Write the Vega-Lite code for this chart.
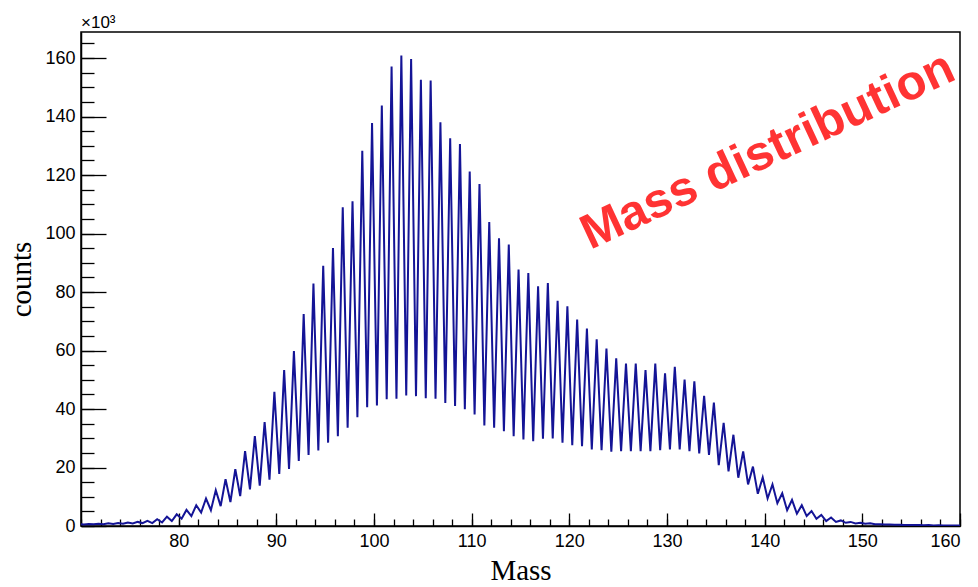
{
  "$schema": "https://vega.github.io/schema/vega-lite/v6.json",
  "width": 879,
  "height": 494,
  "autosize": "none",
  "padding": {"left": 81, "top": 32, "right": 18, "bottom": 61},
  "background": "white",
  "config": {
    "view": {"stroke": "#000", "strokeWidth": 1.5},
    "axis": {"grid": false, "tickColor": "#000", "domainColor": "#000", "labelColor": "#000", "titleColor": "#000", "labelFont": "Liberation Sans", "labelFontSize": 18, "titleFont": "Liberation Serif", "titleFontSize": 29, "titleFontWeight": "normal", "tickWidth": 1.3, "domainWidth": 1.5}
  },
  "datasets": {
    "h": [
      {"m":69.8,"c":0.6},{"m":70.3,"c":0.5},{"m":70.8,"c":0.7},{"m":71.3,"c":0.6},{"m":71.8,"c":0.8},{"m":72.3,"c":0.6},
      {"m":72.8,"c":0.9},{"m":73.3,"c":0.7},{"m":73.8,"c":1.0},{"m":74.3,"c":0.8},{"m":74.8,"c":1.2},{"m":75.3,"c":0.9},
      {"m":75.8,"c":1.4},{"m":76.3,"c":1.0},{"m":76.8,"c":1.8},{"m":77.3,"c":1.0},{"m":77.8,"c":2.3},{"m":78.3,"c":1.2},
      {"m":78.8,"c":3.2},{"m":79.3,"c":1.7},{"m":79.8,"c":4.0},{"m":80.3,"c":2.5},{"m":80.8,"c":5.5},{"m":81.3,"c":3.4},
      {"m":81.8,"c":7.1},{"m":82.3,"c":4.6},{"m":82.8,"c":9.4},{"m":83.3,"c":5.4},{"m":83.8,"c":12.2},{"m":84.3,"c":6.8},
      {"m":84.8,"c":16.0},{"m":85.3,"c":8.2},{"m":85.8,"c":19.4},{"m":86.3,"c":10.2},{"m":86.8,"c":25.6},{"m":87.3,"c":12.5},
      {"m":87.8,"c":30.7},{"m":88.3,"c":13.8},{"m":88.8,"c":35.5},{"m":89.3,"c":15.8},{"m":89.8,"c":45.9},{"m":90.3,"c":17.8},
      {"m":90.8,"c":53.3},{"m":91.3,"c":19.5},{"m":91.8,"c":59.8},{"m":92.3,"c":22.2},{"m":92.8,"c":72.5},{"m":93.3,"c":24.3},
      {"m":93.8,"c":82.9},{"m":94.3,"c":25.8},{"m":94.8,"c":89},{"m":95.3,"c":28.5},{"m":95.8,"c":95},{"m":96.3,"c":30.7},
      {"m":96.8,"c":109},{"m":97.3,"c":33.6},{"m":97.8,"c":111},{"m":98.3,"c":37.2},{"m":98.8,"c":128.3},{"m":99.3,"c":40.6},
      {"m":99.8,"c":137.8},{"m":100.3,"c":41.2},{"m":100.8,"c":143.8},{"m":101.3,"c":43.3},{"m":101.8,"c":157.1},{"m":102.3,"c":43.5},
      {"m":102.8,"c":160.9},{"m":103.3,"c":44.6},{"m":103.8,"c":159.7},{"m":104.3,"c":44.4},{"m":104.8,"c":152.6},{"m":105.3,"c":43.7},
      {"m":105.8,"c":152.3},{"m":106.3,"c":43.5},{"m":106.8,"c":138},{"m":107.3,"c":42.1},{"m":107.8,"c":132.6},{"m":108.3,"c":41},
      {"m":108.8,"c":130.6},{"m":109.3,"c":39.9},{"m":109.8,"c":121.2},{"m":110.3,"c":38.1},{"m":110.8,"c":116.9},{"m":111.3,"c":34.4},
      {"m":111.8,"c":103.9},{"m":112.3,"c":33.6},{"m":112.8,"c":98.4},{"m":113.3,"c":32.4},{"m":113.8,"c":96.2},{"m":114.3,"c":30.7},
      {"m":114.8,"c":87.7},{"m":115.3,"c":29.6},{"m":115.8,"c":86.5},{"m":116.3,"c":29},{"m":116.8,"c":82},{"m":117.3,"c":29.8},
      {"m":117.8,"c":83.1},{"m":118.3,"c":29.9},{"m":118.8,"c":77},{"m":119.3,"c":28.5},{"m":119.8,"c":75.1},{"m":120.3,"c":27.6},
      {"m":120.8,"c":70.6},{"m":121.3,"c":27.3},{"m":121.8,"c":67.5},{"m":122.3,"c":26.2},{"m":122.8,"c":63.8},{"m":123.3,"c":25.9},
      {"m":123.8,"c":60.7},{"m":124.3,"c":25.4},{"m":124.8,"c":57.3},{"m":125.3,"c":25.6},{"m":125.8,"c":55.5},{"m":126.3,"c":25.6},
      {"m":126.8,"c":55.5},{"m":127.3,"c":25.6},{"m":127.8,"c":53.3},{"m":128.3,"c":25.6},{"m":128.8,"c":55.5},{"m":129.3,"c":25.9},
      {"m":129.8,"c":52.2},{"m":130.3,"c":26.2},{"m":130.8,"c":54.4},{"m":131.3,"c":26.2},{"m":131.8,"c":50.1},{"m":132.3,"c":25.6},
      {"m":132.8,"c":49.5},{"m":133.3,"c":24.8},{"m":133.8,"c":44.5},{"m":134.3,"c":24.3},{"m":134.8,"c":42.2},{"m":135.3,"c":20.8},
      {"m":135.8,"c":35.3},{"m":136.3,"c":18.7},{"m":136.8,"c":31.2},{"m":137.3,"c":16.5},{"m":137.8,"c":25.5},{"m":138.3,"c":14.2},
      {"m":138.8,"c":20.3},{"m":139.3,"c":11},{"m":139.8,"c":16.6},{"m":140.3,"c":9.4},{"m":140.8,"c":14.2},{"m":141.3,"c":7.8},
      {"m":141.8,"c":11.2},{"m":142.3,"c":5.4},{"m":142.8,"c":8.9},{"m":143.3,"c":4.2},{"m":143.8,"c":7.1},{"m":144.3,"c":3.4},
      {"m":144.8,"c":5.1},{"m":145.3,"c":2.5},{"m":145.8,"c":3.8},{"m":146.3,"c":1.7},{"m":146.8,"c":2.9},{"m":147.3,"c":1.4},
      {"m":147.8,"c":1.9},{"m":148.3,"c":1.1},{"m":148.8,"c":1.4},{"m":149.3,"c":0.9},{"m":149.8,"c":1.1},{"m":150.3,"c":0.8},
      {"m":150.8,"c":0.9},{"m":151.3,"c":0.6},{"m":151.8,"c":0.6},{"m":152.3,"c":0.5},{"m":152.8,"c":0.5},{"m":153.3,"c":0.4},
      {"m":153.8,"c":0.4},{"m":154.3,"c":0.3},{"m":154.8,"c":0.35},{"m":155.3,"c":0.3},{"m":155.8,"c":0.3},{"m":156.3,"c":0.25},
      {"m":156.8,"c":0.3},{"m":157.3,"c":0.2},{"m":157.8,"c":0.25},{"m":158.3,"c":0.2},{"m":158.8,"c":0.2},{"m":159.3,"c":0.2},
      {"m":159.8,"c":0.2},{"m":160.3,"c":0.2}
    ]
  },
  "layer": [
    {
      "data": {"name": "h"},
      "mark": {"type": "line", "color": "#141496", "strokeWidth": 2, "clip": true},
      "encoding": {
        "x": {"field": "m", "type": "quantitative", "scale": {"domain": [70, 160], "nice": false, "zero": false},
              "axis": {"orient": "bottom", "values": [80, 90, 100, 110, 120, 130, 140, 150, 160], "tickSize": -13, "labelPadding": 19, "title": "Mass", "titlePadding": 6}},
        "y": {"field": "c", "type": "quantitative", "scale": {"domain": [0, 168.9], "nice": false},
              "axis": {"orient": "left", "values": [0, 20, 40, 60, 80, 100, 120, 140, 160], "tickSize": -25, "labelPadding": 31, "title": "counts", "titlePadding": 8}}
      }
    },
    {
      "data": {"name": "h"},
      "mark": {"type": "line", "opacity": 0, "clip": true},
      "encoding": {
        "x": {"field": "m", "type": "quantitative", "scale": {"domain": [70, 160], "nice": false, "zero": false},
              "axis": {"orient": "bottom", "values": [70,72,74,76,78,80,82,84,86,88,90,92,94,96,98,100,102,104,106,108,110,112,114,116,118,120,122,124,126,128,130,132,134,136,138,140,142,144,146,148,150,152,154,156,158,160], "tickSize": -7, "labels": false, "domain": false, "title": null}},
        "y": {"field": "c", "type": "quantitative", "scale": {"domain": [0, 168.9], "nice": false},
              "axis": {"orient": "left", "values": [0,5,10,15,20,25,30,35,40,45,50,55,60,65,70,75,80,85,90,95,100,105,110,115,120,125,130,135,140,145,150,155,160,165], "tickSize": -13, "labels": false, "domain": false, "title": null}}
      }
    },
    {
      "data": {"values": [{"t": "Mass distribution"}]},
      "mark": {"type": "text", "font": "Liberation Sans", "fontWeight": "bold", "fontSize": 49, "color": "#ff3333", "angle": 335, "align": "center", "baseline": "middle"},
      "encoding": {
        "x": {"datum": 140.3, "type": "quantitative", "scale": {"domain": [70, 160], "nice": false, "zero": false}, "axis": null},
        "y": {"datum": 128.3, "type": "quantitative", "scale": {"domain": [0, 168.9], "nice": false}, "axis": null},
        "text": {"field": "t"}
      }
    },
    {
      "data": {"values": [{"t": "×10³"}]},
      "mark": {"type": "text", "font": "Liberation Sans", "fontSize": 17, "color": "#000", "align": "left", "baseline": "bottom", "dy": 0},
      "encoding": {
        "x": {"datum": 70, "type": "quantitative", "scale": {"domain": [70, 160], "nice": false, "zero": false}, "axis": null},
        "y": {"datum": 168.9, "type": "quantitative", "scale": {"domain": [0, 168.9], "nice": false}, "axis": null},
        "text": {"field": "t"}
      }
    }
  ],
  "resolve": {"axis": {"x": "independent", "y": "independent"}}
}
